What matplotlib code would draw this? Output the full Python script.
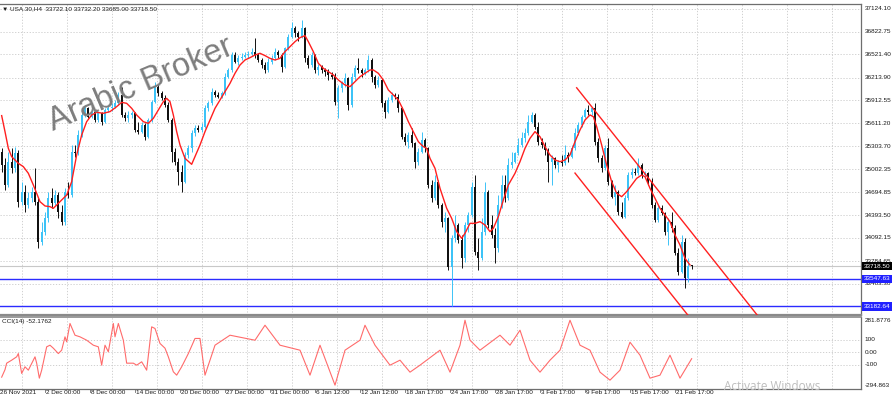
import matplotlib
matplotlib.use("Agg")
import matplotlib.pyplot as plt
import matplotlib.transforms as mtransforms
import numpy as np

# ---------------- data ----------------
opens = [
    35234, 35057, 34792, 35101, 35013, 35212, 34571, 34704, 34527, 34615,
    34704, 34571, 34041, 34174, 34350, 34615, 34549, 34659, 34439, 34306,
    34704, 34659, 35234, 35212, 35454, 35720, 35808, 35697, 35755, 35653,
    35742, 35631, 35786, 35808, 35830, 35874, 35985, 35720, 35675, 35720,
    35742, 35521, 35499, 35587, 35432, 35653, 35896, 36095, 36007, 35949,
    35852, 35653, 35234, 35101, 34969, 34836, 35190, 35278, 35477, 35543,
    35521, 35565, 35808, 35874, 36029, 35985, 35962, 36007, 36227, 36316,
    36514, 36426, 36470, 36492, 36514, 36523, 36559, 36514, 36448, 36382,
    36316, 36426, 36470, 36559, 36514, 36360, 36603, 36757, 36868, 36802,
    36757, 36868, 36470, 36382, 36514, 36316, 36360, 36316, 36294, 36250,
    36227, 35896, 36073, 36139, 36205, 35852, 36227, 36338, 36316, 36272,
    36316, 36448, 36227, 36117, 36183, 35874, 35764, 35918, 35985, 35962,
    35808, 35432, 35366, 35454, 35344, 35101, 35234, 35388, 35278, 34792,
    34615, 34836, 34527, 34306, 34350, 33710, 34085, 34262, 34063, 33820,
    34262, 34394, 34770, 33909, 33820, 34174, 34704, 34262, 34129, 33953,
    34527, 34792, 34615, 35057, 35101, 35212, 35322, 35410, 35477, 35631,
    35720, 35565, 35366, 35322, 35256, 35101, 35145, 35057, 35101, 35079,
    35190, 35167, 35278, 35477, 35587, 35697, 35786, 35764, 35808, 35366,
    35145, 35013, 35278, 34836, 34637, 34704, 34439, 34372, 34615, 34924,
    34969, 34947, 35057, 34924, 34947, 34836, 34527, 34328, 34483, 34417,
    34174, 34306, 34218, 33887, 33644, 34041, 33555, 33722.1,
]
highs = [
    35278, 35145, 35234, 35278, 35300, 35256, 34836, 34792, 34704, 34770,
    35013, 34615, 34306, 34439, 34704, 34748, 34726, 34704, 34527, 34748,
    34836, 35322, 35322, 35521, 35764, 35852, 35830, 35786, 35772, 35764,
    35764, 35808, 35852, 35874, 35918, 36020, 36095, 35764, 35772, 35772,
    35764, 35631, 35631, 35609, 35684, 35918, 36161, 36126, 36037, 35985,
    35887, 35675, 35278, 35145, 35057, 35234, 35322, 35521, 35587, 35587,
    35609, 35852, 35905, 36073, 36051, 36020, 36037, 36272, 36347, 36559,
    36550, 36514, 36537, 36559, 36567, 36603, 36735, 36537, 36470, 36417,
    36470, 36514, 36603, 36581, 36537, 36625, 36788, 36956, 36903, 36832,
    36978, 36890, 36514, 36559, 36523, 36391, 36382, 36347, 36329, 36294,
    36272, 36117, 36170, 36272, 36227, 36272, 36382, 36470, 36338, 36347,
    36514, 36470, 36250, 36241, 36205, 35918, 35962, 36020, 36007, 35993,
    35830, 35477, 35499, 35543, 35366, 35278, 35499, 35410, 35300, 34858,
    34924, 34858, 34549, 34439, 34372, 34129, 34394, 34284, 34129, 34306,
    34439, 34836, 34924, 34085, 34350, 34836, 34726, 34394, 34218, 34659,
    34924, 34924, 35145, 35234, 35234, 35410, 35499, 35543, 35720, 35764,
    35742, 35631, 35410, 35366, 35278, 35190, 35167, 35123, 35190, 35322,
    35234, 35322, 35543, 35631, 35720, 35817, 35852, 35830, 35874, 35410,
    35190, 35322, 35410, 34858, 34792, 34726, 34571, 34659, 34969, 35013,
    35013, 35145, 35079, 34977, 34969, 34880, 34571, 34527, 34527, 34439,
    34350, 34439, 34262, 33953, 34129, 34085, 33820, 33732.2,
]
lows = [
    34969, 34726, 34770, 34947, 34969, 34505, 34527, 34439, 34483, 34571,
    34527, 33953, 33997, 34129, 34306, 34483, 34527, 34350, 34262, 34262,
    34615, 34637, 35167, 35190, 35432, 35697, 35675, 35675, 35622, 35631,
    35587, 35609, 35764, 35772, 35808, 35852, 35697, 35640, 35631, 35684,
    35490, 35463, 35477, 35388, 35410, 35631, 35874, 35976, 35918, 35830,
    35631, 35101, 35057, 34792, 34704, 34814, 35145, 35234, 35446, 35490,
    35499, 35543, 35772, 35852, 35962, 35940, 35940, 35985, 36205, 36294,
    36404, 36382, 36448, 36470, 36479, 36506, 36479, 36417, 36338, 36272,
    36294, 36391, 36448, 36470, 36294, 36338, 36581, 36735, 36757, 36700,
    36735, 36426, 36338, 36360, 36272, 36250, 36272, 36241, 36183, 36196,
    35852, 35675, 36020, 36095, 35786, 35830, 36183, 36272, 36227, 36250,
    36294, 36161, 36073, 36095, 35830, 35675, 35742, 35896, 35932, 35764,
    35401, 35322, 35278, 35300, 35013, 35057, 35212, 35234, 34757, 34571,
    34593, 34483, 34240, 34174, 33666, 33182.64, 34041, 34019, 33688, 33776,
    34174, 34372, 33864, 33666, 33798, 34129, 34218, 34085, 33754, 33909,
    34483, 34571, 34593, 35013, 35079, 35190, 35300, 35366, 35454, 35609,
    35534, 35322, 35278, 35190, 34836, 34792, 35013, 34969, 35048, 35057,
    35101, 35145, 35256, 35454, 35565, 35675, 35720, 35720, 35322, 35101,
    34969, 34991, 34792, 34615, 34527, 34394, 34350, 34350, 34593, 34880,
    34924, 34924, 34880, 34880, 34792, 34483, 34306, 34306, 34394, 34129,
    33997, 34174, 33864, 33600, 33622, 33423, 33511, 33685.0,
]
closes = [
    35057, 34792, 35101, 35013, 35212, 34571, 34704, 34527, 34615, 34704,
    34571, 34041, 34174, 34350, 34615, 34549, 34659, 34439, 34306, 34704,
    34659, 35234, 35212, 35454, 35720, 35808, 35697, 35755, 35653, 35742,
    35631, 35786, 35808, 35830, 35874, 35985, 35720, 35675, 35720, 35742,
    35521, 35499, 35587, 35432, 35653, 35896, 36095, 36007, 35949, 35852,
    35653, 35234, 35101, 34969, 34836, 35190, 35278, 35477, 35543, 35521,
    35565, 35808, 35874, 36029, 35985, 35962, 36007, 36227, 36316, 36514,
    36426, 36470, 36492, 36514, 36523, 36559, 36514, 36448, 36382, 36316,
    36426, 36470, 36559, 36514, 36360, 36603, 36757, 36868, 36802, 36757,
    36868, 36470, 36382, 36514, 36316, 36360, 36316, 36294, 36250, 36227,
    35896, 36073, 36139, 36205, 35852, 36227, 36338, 36316, 36272, 36316,
    36448, 36227, 36117, 36183, 35874, 35764, 35918, 35985, 35962, 35808,
    35432, 35366, 35454, 35344, 35101, 35234, 35388, 35278, 34792, 34615,
    34836, 34527, 34306, 34350, 33710, 34085, 34262, 34063, 33820, 34262,
    34394, 34770, 33909, 33820, 34174, 34704, 34262, 34129, 33953, 34527,
    34792, 34615, 35057, 35101, 35212, 35322, 35410, 35477, 35631, 35720,
    35565, 35366, 35322, 35256, 35101, 35145, 35057, 35101, 35079, 35190,
    35167, 35278, 35477, 35587, 35697, 35786, 35764, 35808, 35366, 35145,
    35013, 35278, 34836, 34637, 34704, 34439, 34372, 34615, 34924, 34969,
    34947, 35057, 34924, 34947, 34836, 34527, 34328, 34483, 34417, 34174,
    34306, 34218, 33887, 33644, 34041, 33555, 33722.1, 33718.5,
]

# moving average (red line), sampled at bar positions
ma_bar = [0, 1, 2, 3, 5, 6.5, 8, 9.5, 10.5, 11.5, 13, 14.5, 15.5, 16.5, 18, 19.5, 21, 22.5, 24, 25.5,
          27, 28.5, 30.5, 32.5, 34.5, 36, 37.5, 39, 40.5, 42.5, 44, 45.5, 47, 48.5, 49.5, 50.5, 51.5, 52.5,
          53.5, 55, 57, 58, 59.5, 61, 62.5, 64, 65.5, 67, 68.5, 70, 71.5, 73, 74.5, 76, 77.5, 79, 80.5, 82,
          83.5, 85, 86.5, 88, 89.5, 91, 92, 93.5, 95, 96.5, 98, 99.5, 101, 103, 104.5, 106, 107.5, 109,
          110.5, 111.5, 113, 114.5, 116, 117.5, 119, 120.5, 122, 123.5, 125, 126.5, 127.5, 128.5, 130,
          131.5, 132.5, 133.5, 135, 136.5, 138, 139, 140.5, 142, 143.5, 145, 146.5, 147.5, 149, 150.5,
          152, 154, 155.5, 157, 158.5, 160, 161.5, 163, 164.5, 166, 167.5, 169, 170.5, 172, 173.5, 175,
          176.5, 177.5, 178.5, 180, 181.5, 183, 184.5, 186, 187.5, 189, 190.5, 192, 193, 194.5, 196,
          197.5, 199, 200.5, 202, 203.5, 205, 206.5]
ma_val = [35711, 35499, 35278, 35167, 35079, 35035, 34947, 34792, 34682, 34571, 34514, 34505, 34483,
          34527, 34593, 34659, 34836, 35190, 35454, 35631, 35720, 35755, 35742, 35764, 35830, 35887,
          35874, 35808, 35720, 35631, 35609, 35675, 35786, 35896, 35940, 35896, 35720, 35499, 35322,
          35145, 35066, 35167, 35322, 35499, 35653, 35808, 35918, 36029, 36139, 36272, 36382, 36448,
          36479, 36514, 36537, 36506, 36470, 36448, 36470, 36559, 36625, 36691, 36744, 36771, 36691,
          36559, 36404, 36338, 36294, 36250, 36183, 36117, 36095, 36161, 36227, 36272, 36316, 36316,
          36272, 36183, 36051, 35985, 35918, 35786, 35631, 35499, 35366, 35300, 35278, 35145, 35013,
          34748, 34615, 34483, 34350, 34174, 34085, 34152, 34284, 34284, 34306, 34262, 34174, 34218,
          34372, 34593, 34792, 34947, 35101, 35278, 35410, 35499, 35432, 35300, 35190, 35123, 35101,
          35123, 35190, 35366, 35521, 35653, 35720, 35697, 35565, 35322, 35057, 34836, 34682, 34637,
          34704, 34792, 34880, 34924, 34902, 34748, 34615, 34483, 34394, 34306, 34129, 33997, 33820,
          33732]

# CCI(14) values, sampled at bar positions
cci_bar = [0, 1, 1.5, 3, 4.5, 5, 6, 7, 8, 9.5, 10, 10.5, 11.3, 12, 13.5, 14.5, 15.5, 17, 18, 19,
           19.5, 20.5, 22, 23.5, 25.5, 27.5, 29, 30, 31, 32, 33.5, 34, 35, 36.5, 37.5, 39.5, 40.5, 42,
           43.5, 45, 46, 47.5, 49, 50, 51.5, 52.5, 54, 56, 58, 59.5, 61, 64, 68.5, 76, 79, 83.5, 89.5,
           92.5, 95.5, 100, 103, 107.5, 109, 112, 116.5, 119.5, 122.5, 125.5, 131.5, 134.5, 137.5, 139,
           140.5, 143.5, 149.5, 152.5, 155.5, 158.5, 161.5, 164.5, 167.5, 170.5, 173.5, 176.5, 179.5,
           182.5, 185.5, 188.5, 191.5, 194.5, 197.5, 200.5, 203.5, 207]
cci_val = [-200, -140, -88, -64, -37, -11, -170, -117, -144, -64, -37, -88, -208, -144, 43, 56, 32,
           -11, 16, 123, 83, 230, 136, 123, 96, 56, 43, -104, 56, 3, 230, 123, 230, 96, -88, -88, -104,
           -77, -144, 203, 190, 70, 32, -37, -157, -184, -117, -11, 110, 110, -184, 56, 136, 96, 216,
           56, 16, -184, 56, -264, 16, 96, 216, 56, -104, -64, -160, -104, 16, -160, 56, 256, 96, 16,
           136, 56, 176, -64, -160, -64, 16, 256, 56, 16, -160, -224, -144, 80, -24, -208, -184, -24,
           -208, -52.18]

price_ticks = [37124.10, 36822.75, 36521.40, 36213.90, 35912.55, 35611.20, 35303.70,
               35002.35, 34694.85, 34393.50, 34092.15, 33784.65, 33483.30]
cci_ticks = [281.8776, 100, 0, -100, -294.863]
cci_tick_labels = ["281.8776", "100", "0.00", "-100", "-294.863"]
date_labels = ["26 Nov 2021", "2 Dec 00:00", "8 Dec 00:00", "14 Dec 00:00", "20 Dec 00:00",
               "27 Dec 00:00", "31 Dec 00:00", "6 Jan 12:00", "12 Jan 12:00", "18 Jan 17:00",
               "24 Jan 17:00", "28 Jan 17:00", "3 Feb 17:00", "9 Feb 17:00", "15 Feb 17:00",
               "21 Feb 17:00"]

level_lines = [33547.63, 33182.64]
last_price = 33718.50
channel_upper = [(172.5, 36080), (207.5, 34134)]
channel_lower = [(172.0, 34950), (206.0, 33060)]
header = "USA.30,H4  33722.10 33732.20 33685.00 33718.50"
cci_title = "CCI(14) -52.1762"

# ---------------- figure ----------------
W, H = 895, 396
fig = plt.figure(figsize=(W / 100, H / 100), dpi=100)
fig.patch.set_facecolor("white")
plt.rcParams["font.family"] = ["Liberation Sans", "DejaVu Sans"]

def fx(px):
    return px / W

def fy(py):
    return 1 - py / H

ax = fig.add_axes([0, fy(315), fx(861), fy(4) - fy(315)])
cx = fig.add_axes([0, fy(389), fx(861), fy(317) - fy(389)])

XMIN, XMAX = -0.5, 257.8
PMIN, PMAX = 33069.5, 37190.0
ax.set_xlim(XMIN, XMAX)
ax.set_ylim(PMIN, PMAX)
cx.set_xlim(XMIN, XMAX)
cx.set_ylim(-294.863, 281.8776)

GRID = "#c9c9c9"
UP = "#3cc3f7"
FS = 4.6
TXT = "#1a1a1a"

for a in (ax, cx):
    a.set_xticks([])
    a.set_yticks([])
    a.spines["left"].set_visible(False)
    for s in ("top", "right", "bottom"):
        a.spines[s].set_color("#6e6e6e")
        a.spines[s].set_linewidth(0.9)
ax.spines["bottom"].set_linewidth(1.6)
ax.spines["bottom"].set_color("#8a8a8a")
cx.spines["top"].set_color("#8a8a8a")
cx.spines["top"].set_linewidth(1.2)

# vertical grid (every 13.5 bars)
step = 13.5
gx = np.arange(6.1, XMAX, step)
for a in (ax, cx):
    for g in gx:
        a.axvline(g, color=GRID, lw=0.6, ls=(0, (1.5, 2)), zorder=0)
for p in price_ticks:
    ax.axhline(p, color=GRID, lw=0.6, ls=(0, (1.5, 2)), zorder=0)
for v in (100, 0, -100):
    cx.axhline(v, color=GRID, lw=0.6, ls=(0, (1.5, 2)), zorder=0)

# horizontal levels and bid line
ax.axhline(last_price, color="#c8c8c8", lw=0.8, zorder=1)
for lv in level_lines:
    ax.axhline(lv, color="#2b2bff", lw=1.0, zorder=2)

# candles
o = np.array(opens, float)
h = np.array(highs, float)
l = np.array(lows, float)
c = np.array(closes, float)
x = np.arange(len(c))
up = c >= o
ax.vlines(x[up], l[up], h[up], color=UP, lw=0.7, zorder=3)
ax.vlines(x[~up], l[~up], h[~up], color="#111111", lw=0.7, zorder=3)
bb = np.minimum(o, c)
bh = np.maximum(np.abs(c - o), 10)
ax.bar(x[up], bh[up], bottom=bb[up], width=0.55, color=UP, lw=0, zorder=4)
ax.bar(x[~up], bh[~up], bottom=bb[~up], width=0.55, color="#111111", lw=0, zorder=4)

# moving average
ax.plot(ma_bar, ma_val, color="#ff1f1f", lw=1.0, zorder=5)

# channel (rays)
for (x1, y1), (x2, y2) in (channel_upper, channel_lower):
    slope = (y2 - y1) / (x2 - x1)
    xe = x1 + 80
    ax.plot([x1, xe], [y1, y1 + slope * (xe - x1)], color="#ff2020", lw=1.0, zorder=5)

# CCI
cx.plot(cci_bar, cci_val, color="#ff6b6b", lw=0.8, zorder=3)

# right-hand labels
tr_main = mtransforms.blended_transform_factory(ax.transAxes, ax.transData)
for p in price_ticks:
    ax.text(1.004, p, f"{p:.2f}", transform=tr_main, fontsize=FS, va="center", ha="left",
            color=TXT, clip_on=False)
ax.text(1.003, last_price, f"{last_price:.2f}", transform=tr_main, fontsize=FS, va="center",
        ha="left", color="white", clip_on=False, zorder=10,
        bbox=dict(boxstyle="square,pad=0.25", fc="black", ec="none"))
for lv in level_lines:
    ax.text(1.003, lv, f"{lv:.2f}", transform=tr_main, fontsize=FS, va="center", ha="left",
            color="white", clip_on=False, zorder=10,
            bbox=dict(boxstyle="square,pad=0.25", fc="#2020ff", ec="none"))

tr_cci = mtransforms.blended_transform_factory(cx.transAxes, cx.transData)
for v, lab in zip(cci_ticks, cci_tick_labels):
    vv = v
    if v == cci_ticks[0]:
        vv = v - 30
    if v == cci_ticks[-1]:
        vv = v + 30
    cx.text(1.004, vv, lab, transform=tr_cci, fontsize=FS, va="center", ha="left",
            color=TXT, clip_on=False)

# date labels
tr_date = mtransforms.blended_transform_factory(cx.transData, fig.transFigure)
for k, lab in enumerate(date_labels):
    xi = -0.5 + step * k
    cx.text(xi + (0.3 if k else 0), fy(390), lab, transform=tr_date, fontsize=FS,
            va="top", ha="left", color=TXT, clip_on=False)
    if k:
        cx.plot([xi, xi], [-294.863, -294.863 - 25], color="#6e6e6e", lw=0.6, clip_on=False)

# header and titles
fig.text(fx(2), fy(9), "\u25bc " + header, fontsize=FS, va="center", ha="left", color=TXT)
fig.text(fx(2), fy(321), cci_title, fontsize=FS, va="center", ha="left", color=TXT)

# watermarks
fig.text(fx(141), fy(85), "Arabic Broker", fontsize=23.5, family="Liberation Sans",
         rotation=23, rotation_mode="anchor", ha="center", va="center", color="#7d7d7d")
fig.text(fx(724), fy(386), "Activate Windows", fontsize=8.5, family="Open Sans",
         ha="left", va="center", color="#bdbdbd")

fig.savefig("out.png", dpi=100)
